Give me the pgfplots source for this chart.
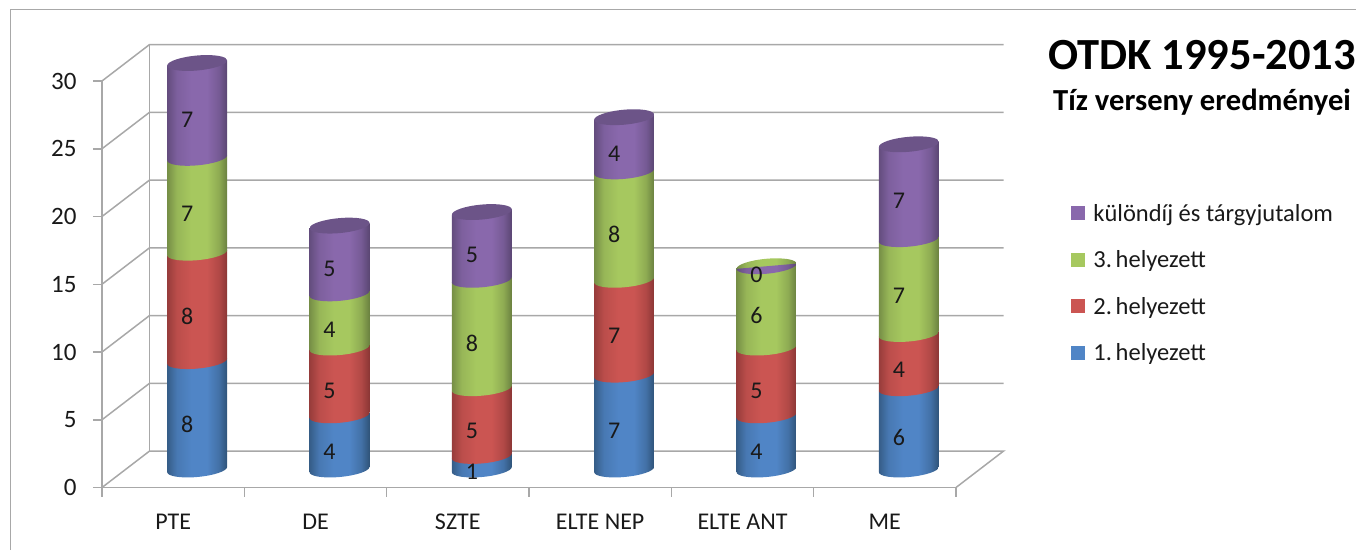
\documentclass[border=0pt]{standalone}
\usepackage{fontspec}
\setmainfont{Carlito}
\usepackage{pgfplots}
\usepackage{pgfplotstable}
\pgfplotsset{compat=1.18}

\definecolor{wall}{HTML}{A8A8A8}
\definecolor{bluemid}{HTML}{5085C6}
\definecolor{blueedge}{HTML}{2F5378}
\definecolor{redmid}{HTML}{CB5552}
\definecolor{rededge}{HTML}{8A3635}
\definecolor{greenmid}{HTML}{A6C85F}
\definecolor{greenedge}{HTML}{6A8040}
\definecolor{purplemid}{HTML}{8968AC}
\definecolor{purpleedge}{HTML}{5A4672}
\definecolor{purpletop}{HTML}{6C5488}

% light across the middle, dark towards the rim, darkest on the right
\pgfdeclarehorizontalshading{cylblue}{100bp}{color(0bp)=(blueedge!80!bluemid); color(25bp)=(blueedge!80!bluemid); color(33bp)=(blueedge!25!bluemid); color(45bp)=(bluemid); color(58bp)=(bluemid); color(68bp)=(blueedge!40!bluemid); color(75bp)=(blueedge); color(100bp)=(blueedge)}
\pgfdeclarehorizontalshading{cylred}{100bp}{color(0bp)=(rededge!80!redmid); color(25bp)=(rededge!80!redmid); color(33bp)=(rededge!25!redmid); color(45bp)=(redmid); color(58bp)=(redmid); color(68bp)=(rededge!40!redmid); color(75bp)=(rededge); color(100bp)=(rededge)}
\pgfdeclarehorizontalshading{cylgreen}{100bp}{color(0bp)=(greenedge!80!greenmid); color(25bp)=(greenedge!80!greenmid); color(33bp)=(greenedge!25!greenmid); color(45bp)=(greenmid); color(58bp)=(greenmid); color(68bp)=(greenedge!40!greenmid); color(75bp)=(greenedge); color(100bp)=(greenedge)}
\pgfdeclarehorizontalshading{cylpurple}{100bp}{color(0bp)=(purpleedge!80!purplemid); color(25bp)=(purpleedge!80!purplemid); color(33bp)=(purpleedge!25!purplemid); color(45bp)=(purplemid); color(58bp)=(purplemid); color(68bp)=(purpleedge!40!purplemid); color(75bp)=(purpleedge); color(100bp)=(purpleedge)}

\pgfdeclareplotmark{nomark}{}

% one row per school, one column per place
\pgfplotstableread{
x   a b c d
0.5 8 8 7 7
1.5 4 5 4 5
2.5 1 5 8 5
3.5 7 7 8 4
4.5 4 5 6 0
5.5 6 4 7 7
}\results

\pgfplotsset{
  % cylinder piece, drawn down from its top value; the rims lean up to the right
  piece/.style n args={2}{
    only marks, mark=nomark, scatter, forget plot,
    visualization depends on={#1 \as \segh},
    scatter/@post marker code/.code={},
    scatter/@pre marker code/.code={
      \pgfmathsetmacro\segd{\segh*13.55}
      \begin{scope}
        \clip[draw=none]
          (-30pt,{-2.6pt-\segd pt})
          .. controls (-30pt,{-6.74pt-\segd pt}) and (-16.57pt,{-8.94pt-\segd pt}) .. (0pt,{-7.5pt-\segd pt})
          .. controls (16.57pt,{-6.06pt-\segd pt}) and (30pt,{-1.54pt-\segd pt}) .. (30pt,{2.6pt-\segd pt})
          -- (30pt,2.6pt)
          -- (-30pt,-2.6pt)
          -- cycle;
        \shade[draw=none, shading=#2, shading angle=0]
          (-30pt,{-20pt-\segd pt}) rectangle (30pt,20pt);
      \end{scope}
    },
  },
  cap/.style={
    only marks, mark=nomark, scatter, forget plot,
    scatter/@post marker code/.code={},
    scatter/@pre marker code/.code={
      \begin{scope}
        \clip[draw=none]
          (-30pt,-2.6pt)
          .. controls (-30pt,-6.74pt) and (-16.57pt,-8.94pt) .. (0pt,-7.5pt)
          .. controls (16.57pt,-6.06pt) and (30pt,-1.54pt) .. (30pt,2.6pt)
          .. controls (30pt,6.74pt) and (16.57pt,8.94pt) .. (0pt,7.5pt)
          .. controls (-16.57pt,6.06pt) and (-30pt,1.54pt) .. (-30pt,-2.6pt)
          -- cycle;
        #1
      \end{scope}
    },
  },
  values/.style={
    draw=none, mark=none, forget plot,
    nodes near coords, point meta=explicit,
    nodes near coords style={anchor=center, xshift=-10pt, yshift=-9pt,
      text=black!90, font=\fontsize{24}{26}\selectfont},
  },
  legendsquare/.style={legend image code/.code={
    \fill[draw=none, #1] (0pt,-7pt) rectangle (14pt,7pt);
    \path[draw=none] (0pt,0pt) -- (20pt,0pt);}},
}

\begin{document}
\begin{tikzpicture}[x=1pt,y=1pt]
  \path[use as bounding box] (0,0) rectangle (1356,550);
  \draw[wall, line width=1.5pt] (10.5,0) -- (10.5,540.5) -- (1356,540.5);

  % front axis with the walls and the floor
  \begin{axis}[
    at={(102pt,62.5pt)}, anchor=south west, scale only axis,
    width=854pt, height=406.5pt,
    xmin=0, xmax=6, ymin=0, ymax=30,
    clip=false,
    axis x line=bottom, axis y line=left,
    axis line style={-, wall, line width=1.5pt},
    tick align=outside, major tick length=9pt,
    every tick/.style={wall, line width=1.5pt},
    xtick={0,1,2,3,4,5,6},
    x tick label as interval,
    xticklabels={PTE,DE,SZTE,ELTE NEP,ELTE ANT,ME},
    ytick={0,5,10,15,20,25,30},
    /pgf/number format/assume math mode=true,
    xticklabel style={font=\fontsize{24}{26}\selectfont, text=black!90, yshift=-14pt},
    yticklabel style={font=\fontsize{25}{27}\selectfont, text=black!90, xshift=-13pt},
  ]
    \addplot[wall, line width=1.5pt] coordinates {(0,0)(0.334,2.69)(6.334,2.69)(6,0)};
    \addplot[wall, line width=1.5pt] coordinates {(0,5)(0.334,7.69)(6.334,7.69)};
    \addplot[wall, line width=1.5pt] coordinates {(0,10)(0.334,12.69)(6.334,12.69)};
    \addplot[wall, line width=1.5pt] coordinates {(0,15)(0.334,17.69)(6.334,17.69)};
    \addplot[wall, line width=1.5pt] coordinates {(0,20)(0.334,22.69)(6.334,22.69)};
    \addplot[wall, line width=1.5pt] coordinates {(0,25)(0.334,27.69)(6.334,27.69)};
    \addplot[wall, line width=1.5pt] coordinates {(0,30)(0.334,32.69)(6.334,32.69)};
    \addplot[wall, line width=1.5pt] coordinates {(0.334,2.69)(0.334,32.69)};
  \end{axis}

  % cylinders, same scale, moved back to the middle of the depth
  \begin{axis}[
    at={(126pt,80.5pt)}, anchor=south west, scale only axis,
    width=854pt, height=406.5pt,
    xmin=0, xmax=6, ymin=0, ymax=30,
    clip=false, hide axis,
    /pgf/number format/assume math mode=true,
    legend cell align=left,
    legend style={at={(axis cs:6.62,19.9)}, anchor=north west, draw=none, fill=none,
      row sep=24pt, font=\fontsize{24.5}{26}\selectfont, text=black!90},
  ]
    \addplot[piece={\thisrow{a}}{cylblue}]
      table[x=x, y expr=\thisrow{a}] {\results};
    \addplot[piece={\thisrow{b}}{cylred}]
      table[x=x, y expr=\thisrow{a}+\thisrow{b}] {\results};
    \addplot[piece={\thisrow{c}}{cylgreen}]
      table[x=x, y expr=\thisrow{a}+\thisrow{b}+\thisrow{c}] {\results};
    % ELTE ANT has no purple part, its green top stays visible
    \addplot[cap={\shade[draw=none, shading=cylgreen, shading angle=0] (-30pt,-20pt) rectangle (30pt,20pt);}]
      coordinates {(4.5,15)};
    \addplot[piece={\thisrow{d}}{cylpurple}]
      table[x=x, y expr=\thisrow{a}+\thisrow{b}+\thisrow{c}+\thisrow{d}] {\results};
    \addplot[cap={\fill[draw=none, purpletop] (-30pt,-20pt) rectangle (30pt,20pt);}]
      coordinates {(0.5,30)(1.5,18)(2.5,19)(3.5,26)(5.5,24)};

    \addplot[values] table[x=x, y expr=\thisrow{a}/2, meta=a] {\results};
    \addplot[values] table[x=x, y expr=\thisrow{a}+\thisrow{b}/2, meta=b] {\results};
    \addplot[values] table[x=x, y expr=\thisrow{a}+\thisrow{b}+\thisrow{c}/2, meta=c] {\results};
    \addplot[values] table[x=x, y expr=\thisrow{a}+\thisrow{b}+\thisrow{c}+\thisrow{d}/2, meta=d] {\results};

    \addlegendimage{legendsquare=purplemid}
    \addlegendentry{különdíj és tárgyjutalom}
    \addlegendimage{legendsquare=greenmid}
    \addlegendentry{3.\kern0.15em helyezett}
    \addlegendimage{legendsquare=redmid}
    \addlegendentry{2.\kern0.15em helyezett}
    \addlegendimage{legendsquare=bluemid}
    \addlegendentry{1.\kern0.15em helyezett}
  \end{axis}

  \node[anchor=base west, inner sep=0pt, font=\fontsize{44.5}{46}\selectfont\bfseries] at (1048,480) {OTDK 1995-2013};
  \node[anchor=base west, inner sep=0pt, font=\fontsize{30.6}{32}\selectfont\bfseries] at (1053,439) {Tíz verseny eredményei};
\end{tikzpicture}
\end{document}
